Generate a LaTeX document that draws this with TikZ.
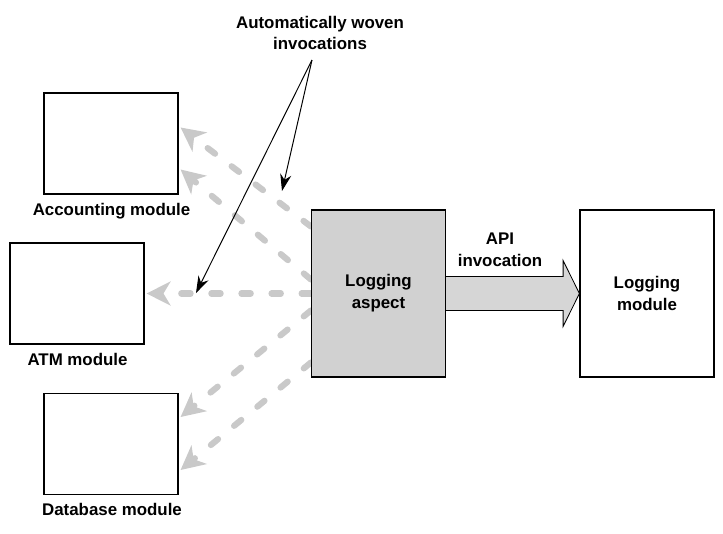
\documentclass[tikz,border=0pt]{standalone}
\usepackage{fontspec}
\setmainfont{Liberation Sans}
\usetikzlibrary{arrows.meta,calc,backgrounds}

\begin{document}
\begin{tikzpicture}
      [x=0.025cm,y=-0.025cm,>={Stealth[length=12pt,width=8pt]},
       module/.style={rectangle,draw,line width=0.8pt,minimum width=3.35cm,minimum height=2.525cm,inner sep=0pt},
       bigbox/.style={module,minimum height=4.175cm,align=center,font=\bfseries\fontsize{12}{15.5}\selectfont},
       tag/.style={anchor=base,inner sep=0pt,font=\bfseries\fontsize{12}{15.5}\selectfont},
       note/.style={align=center,inner sep=0pt,font=\bfseries\fontsize{12}{15.5}\selectfont},
       weave/.style={draw=black!21,line width=4.4pt,line cap=round,dash pattern=on 6.6pt off 14.8pt,
         -{Stealth[length=17pt,width=17pt,inset=5pt,fill=black!21]}},
       pointer/.style={->,line width=0.7pt},
       api/.style={fill=black!16,draw,line width=0.6pt,line join=miter}]
      \useasboundingbox (0,0) rectangle (723,533) ;
      \node[module] (acctmod) at (111,143.5) {} ;
      \node[module] (atmmod) at (77,293.5) {} ;
      \node[module] (dbmod) at (111,444) {} ;
      \node[bigbox,fill=black!18] (aspect) at (378.5,293.5) {Logging\\aspect} ;
      \node[bigbox] (logmod) at (647,293.5) {Logging\\module} ;
      \node[tag] (acctlabel) at (111.5,215) {Accounting module} ;
      \node[tag] (atmlabel) at (77.5,365) {ATM module} ;
      \node[tag] (dblabel) at (112,515) {Database module} ;
      \node[note] (woven) at (320,33) {Automatically woven\\invocations} ;
      \node[note] (apilabel) at (500,250) {API\\invocation} ;
      % woven calls, under the aspect box
      \coordinate (out1) at ($(aspect.west)+(0,-67)$) ;
      \coordinate (out2) at ($(aspect.west)+(0,-14)$) ;
      \coordinate (out3) at (aspect.west) ;
      \coordinate (out4) at ($(aspect.west)+(0,17)$) ;
      \coordinate (out5) at ($(aspect.west)+(0,69)$) ;
      \coordinate (in1) at ($(acctmod.east)+(2,-16)$) ;
      \coordinate (in2) at ($(acctmod.east)+(2,26)$) ;
      \coordinate (in3) at ($(atmmod.east)+(2,0)$) ;
      \coordinate (in4) at ($(dbmod.east)+(2,-27)$) ;
      \coordinate (in5) at ($(dbmod.east)+(2,26)$) ;
      \begin{scope}[on background layer]
      \draw[weave] (out1) to (in1) ;
      \draw[weave] (out2) to (in2) ;
      \draw[weave] (out3) to (in3) ;
      \draw[weave] (out4) to (in4) ;
      \draw[weave] (out5) to (in5) ;
      \end{scope}
      % api call
      \filldraw[api] ($(aspect.east)+(0,-17)$) -- ++(117,0) -- ++(0,-16) -- (logmod.west)
        -- ($(aspect.east)+(117,33)$) -- ++(0,-16) -- ($(aspect.east)+(0,17)$) ;
      % pointers from the note
      \coordinate (fork) at (312,60) ;
      \coordinate (hit1) at (196,293) ;
      \coordinate (hit2) at (282,191) ;
      \draw[pointer] (fork) to (hit1) ;
      \draw[pointer] (fork) to (hit2) ;
    \end{tikzpicture}
\end{document}
